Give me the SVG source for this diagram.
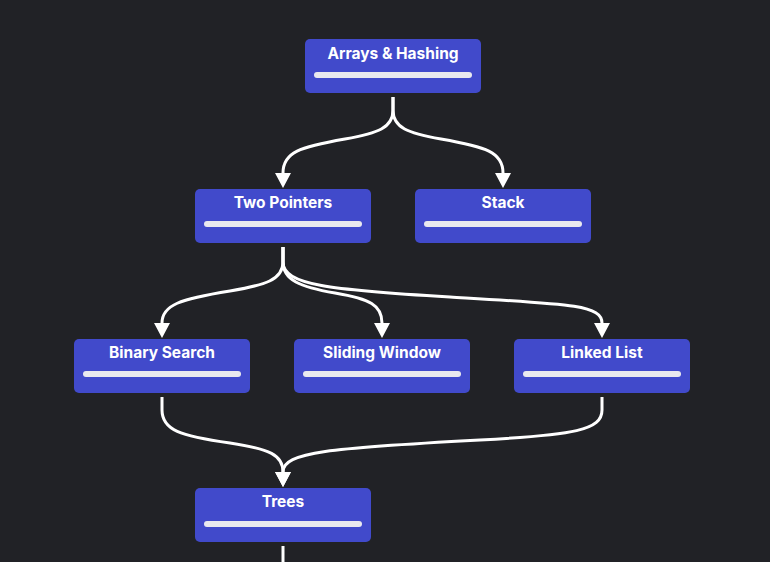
<svg xmlns="http://www.w3.org/2000/svg" width="770" height="562" viewBox="0 0 770 562">
<style>
.bg{fill:#212226}
.node rect.box{fill:#414ACB}
.node rect.bar{fill:#E9E9EF}
.node text{font-family:Inter,"Liberation Sans",sans-serif;font-weight:700;font-size:15.5px;fill:#FFFFFF;text-anchor:middle}
.edge{fill:none;stroke:#FFFFFF;stroke-width:3;marker-end:url(#arrow)}
.plain{fill:none;stroke:#FFFFFF;stroke-width:3}
</style>
<defs>
<marker id="arrow" markerUnits="userSpaceOnUse" markerWidth="16" markerHeight="17" viewBox="0 -8.5 16 17" refX="0" refY="0" orient="auto">
<path d="M0,-8 L15,0 L0,8 Z" fill="#FFFFFF"/>
</marker>
</defs>
<rect class="bg" x="0" y="0" width="770" height="562"/>
<g id="connectors">
<path class="edge" d="M393,97 L393,110 C393,128 378,133 345,139 C300,147 283,152 283,173"/>
<path class="edge" d="M393,97 L393,110 C393,128 408,133 441,139 C486,147 503,152 503,173"/>
<path class="edge" d="M283,247 L283,262 C283,280 265,285 230,291 C180,299 162,305 162,323"/>
<path class="edge" d="M283,247 L283,262 C283,280 300,287 335,293 C370,299 382,305 382,323"/>
<path class="edge" d="M283,247 L283,262 C283,285 330,290 450,297 C570,304 602,305 602,323"/>
<path class="edge" d="M162,397 L162,410 C162,430 180,436 230,443 C270,449 283,455 283,472"/>
<path class="edge" d="M602,397 L602,410 C602,430 575,435 480,440 C330,448 283,452 283,472"/>
<path class="plain" d="M283,546 L283,562"/>
</g>
<g id="arrays-hashing" class="node">
<rect class="box" x="305" y="39" width="176" height="54" rx="5"/>
<text x="393" y="59">Arrays &amp; Hashing</text>
<rect class="bar" x="314" y="72" width="158" height="6" rx="3"/>
</g>
<g id="two-pointers" class="node">
<rect class="box" x="195" y="189" width="176" height="54" rx="5"/>
<text x="283" y="208">Two Pointers</text>
<rect class="bar" x="204" y="221" width="158" height="6" rx="3"/>
</g>
<g id="stack" class="node">
<rect class="box" x="415" y="189" width="176" height="54" rx="5"/>
<text x="503" y="208">Stack</text>
<rect class="bar" x="424" y="221" width="158" height="6" rx="3"/>
</g>
<g id="binary-search" class="node">
<rect class="box" x="74" y="339" width="176" height="54" rx="5"/>
<text x="162" y="358">Binary Search</text>
<rect class="bar" x="83" y="371" width="158" height="6" rx="3"/>
</g>
<g id="sliding-window" class="node">
<rect class="box" x="294" y="339" width="176" height="54" rx="5"/>
<text x="382" y="358">Sliding Window</text>
<rect class="bar" x="303" y="371" width="158" height="6" rx="3"/>
</g>
<g id="linked-list" class="node">
<rect class="box" x="514" y="339" width="176" height="54" rx="5"/>
<text x="602" y="358">Linked List</text>
<rect class="bar" x="523" y="371" width="158" height="6" rx="3"/>
</g>
<g id="trees" class="node">
<rect class="box" x="195" y="488" width="176" height="54" rx="5"/>
<text x="283" y="507">Trees</text>
<rect class="bar" x="204" y="521" width="158" height="6" rx="3"/>
</g>
</svg>
